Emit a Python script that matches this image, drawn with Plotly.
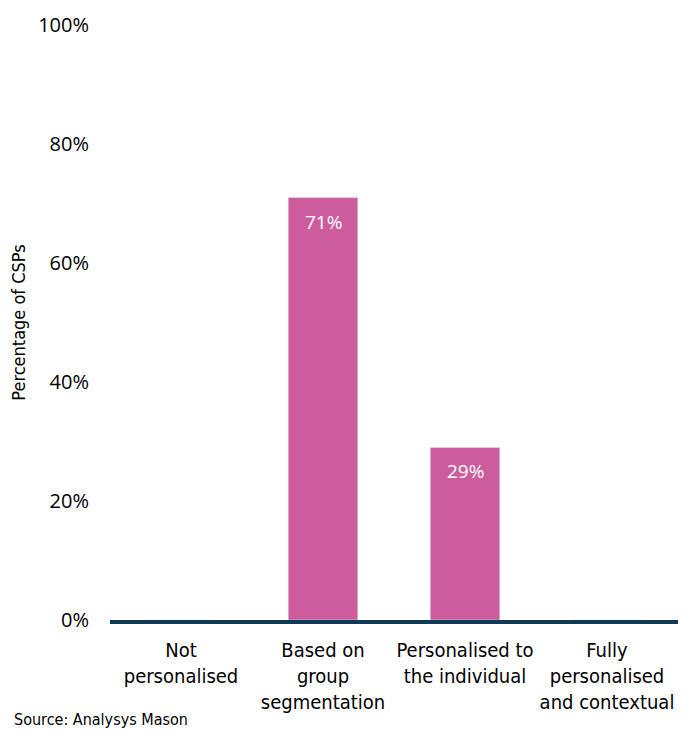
import plotly.graph_objects as go

categories = ["Not<br>personalised", "Based on<br>group<br>segmentation",
              "Personalised to<br>the individual", "Fully<br>personalised<br>and contextual"]
values = [0, 71, 29, 0]
value_labels = ["", "71%", "29%", ""]
y_ticks = [0, 20, 40, 60, 80, 100]

BAR = "#CC5C9C"
NAVY = "#0E3A5A"
COND = "Liberation Sans Narrow, DejaVu Sans Condensed, Roboto Condensed, Liberation Sans, sans-serif"
TICKF = "Open Sans"

fig = go.Figure()
fig.add_trace(go.Bar(x=categories, y=values, marker_color=BAR, width=0.49,
                     hoverinfo="skip"))

for c, v, t in zip(categories, values, value_labels):
    if t:
        fig.add_annotation(x=c, y=v, text=t, showarrow=False, yanchor="top",
                           yshift=-9, font=dict(family=TICKF, size=19, color="white"))

fig.add_annotation(xref="paper", yref="paper", x=-0.172, y=-0.1665, xanchor="left",
                   yanchor="middle", text="Source: Analysys Mason", showarrow=False,
                   font=dict(family=COND, size=16, color="black"))

fig.update_layout(
    width=692, height=740,
    margin=dict(l=102, r=22, t=17, b=128),
    paper_bgcolor="white", plot_bgcolor="white",
    showlegend=False,
    font=dict(family=COND, color="black"),
)
fig.update_yaxes(range=[0, 100], tickvals=y_ticks, ticktext=[f"{v}%" for v in y_ticks],
                 showgrid=False, zeroline=False, showline=False, automargin=False,
                 tickfont=dict(family=TICKF, size=20, color="black"),
                 ticklabelstandoff=20,
                 title=dict(text="Percentage of CSPs", standoff=12,
                            font=dict(family=COND, size=18, color="black")))
fig.update_xaxes(showgrid=False, showline=True, linewidth=4, linecolor=NAVY,
                 automargin=False,
                 tickfont=dict(family=COND, size=20, color="black"),
                 ticklabelstandoff=9)

fig.write_html("out.html")
